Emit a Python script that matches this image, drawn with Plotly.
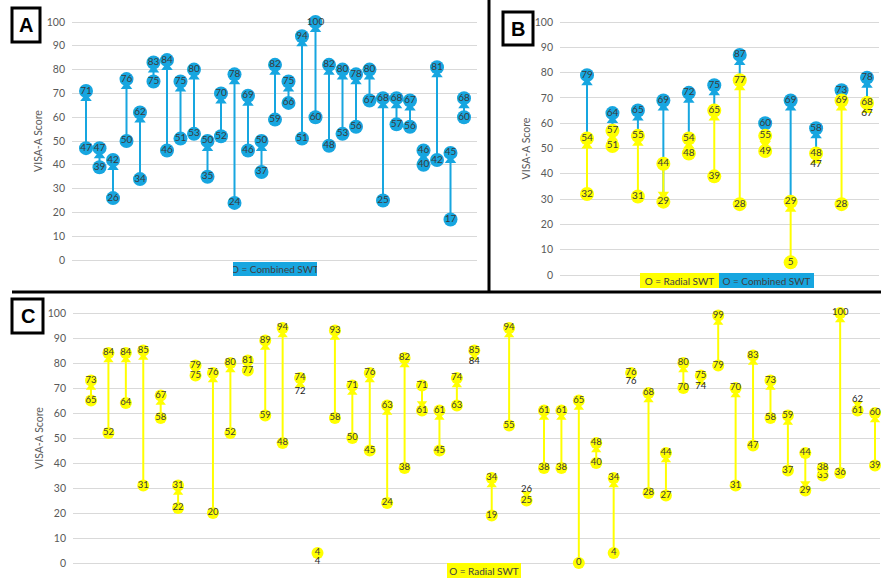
import plotly.graph_objects as go

# ---------------- data ----------------
# Panel A: Combined SWT (pre -> post)
A_pre = [47, 39, 26, 50, 34, 75, 46, 51, 53, 35, 52, 24, 46, 37, 59, 66, 51, 60, 48, 53,
         56, 67, 25, 57, 56, 40, 42, 17, 60]
A_post = [71, 47, 42, 76, 62, 83, 84, 75, 80, 50, 70, 78, 69, 50, 82, 75, 94, 100, 82, 80,
          78, 80, 68, 68, 67, 46, 81, 45, 68]

# Panel B: Radial SWT then Combined SWT
B_radial_pre = [32, 51, 31, 44, 48, 39, 28, 55, 5, 47, 28, 67]
B_radial_post = [54, 57, 55, 29, 54, 65, 77, 49, 29, 48, 69, 68]
B_combined_post = [79, 64, 65, 69, 72, 75, 87, 60, 69, 58, 73, 78]

# Panel C: Radial SWT (pre -> post)
C_pre = [65, 52, 64, 31, 58, 22, 75, 20, 52, 77, 59, 48, 72, 4, 58, 50, 45, 24, 38, 71,
         45, 63, 84, 19, 55, 26, 38, 38, 0, 40, 4, 76, 28, 27, 70, 74, 79, 31, 47, 58,
         37, 44, 35, 36, 62, 39]
C_post = [73, 84, 84, 85, 67, 31, 79, 76, 80, 81, 89, 94, 74, 4, 93, 71, 76, 63, 82, 61,
          61, 74, 85, 34, 94, 25, 61, 61, 65, 48, 34, 76, 68, 44, 80, 75, 99, 70, 83, 73,
          59, 29, 38, 100, 61, 60]

y_ticks = [0, 10, 20, 30, 40, 50, 60, 70, 80, 90, 100]
y_title = "VISA-A Score"
legend_A = "O = Combined SWT"
legend_radial = "O = Radial SWT"
legend_combined = "O = Combined SWT"

# ---------------- styling ----------------
W, H = 883, 582
BLUE = "#17A6E0"
YELLOW = "#FFFF00"
LABEL_FONT = "Lato, 'Liberation Sans', sans-serif"
TXT = "#3A3A3A"


def px(x):
    return x / W


def py(y):
    return 1 - y / H


fig = go.Figure()


def add_lines(xa, ya, pre, post, color):
    lx, ly = [], []
    for i, (a, b) in enumerate(zip(pre, post)):
        lx += [i, i, None]
        ly += [a, b, None]
    fig.add_trace(go.Scatter(x=lx, y=ly, mode="lines", line=dict(color=color, width=2),
                             xaxis=xa, yaxis=ya, hoverinfo="skip", showlegend=False))


def add_arrows(xa, ya, pre, post, color, ppu, size=10, off_px=7.5):
    off = off_px / ppu
    xs, ys, syms = [], [], []
    for i, (a, b) in enumerate(zip(pre, post)):
        if a == b:
            continue
        up = b > a
        xs.append(i)
        ys.append(b - off if up else b + off)
        syms.append("triangle-up" if up else "triangle-down")
    fig.add_trace(go.Scatter(x=xs, y=ys, mode="markers",
                             marker=dict(symbol=syms, size=size, color=color, line=dict(width=0)),
                             xaxis=xa, yaxis=ya, hoverinfo="skip", showlegend=False,
                             cliponaxis=False))


def add_circles(xa, ya, xs, vals, color, size, fsize=9.5):
    fig.add_trace(go.Scatter(x=xs, y=vals, mode="markers+text",
                             text=[str(v) for v in vals], textposition="middle center",
                             textfont=dict(family=LABEL_FONT, size=fsize, color=TXT),
                             marker=dict(symbol="circle", size=size, color=color, line=dict(width=0)),
                             xaxis=xa, yaxis=ya, hoverinfo="skip", showlegend=False,
                             cliponaxis=False))


def add_pre_circles(xa, ya, pre, post, color, size, fsize=9.5):
    xs = [i for i, (a, b) in enumerate(zip(pre, post)) if abs(a - b) > 2]
    vals = [pre[i] for i in xs]
    add_circles(xa, ya, xs, vals, color, size, fsize)


def add_close_labels(xa, ya, pre, post, fsize=9.5):
    # values nearly equal to the follow-up value: plain text label beside the circle
    for pos, cond in (("bottom center", lambda a, b: a <= b), ("top center", lambda a, b: a > b)):
        xs = [i for i, (a, b) in enumerate(zip(pre, post)) if abs(a - b) <= 2 and cond(a, b)]
        if not xs:
            continue
        vals = [pre[i] for i in xs]
        fig.add_trace(go.Scatter(x=xs, y=vals, mode="markers+text",
                                 text=[str(v) for v in vals], textposition=pos,
                                 textfont=dict(family=LABEL_FONT, size=fsize, color="#222222"),
                                 marker=dict(size=4, opacity=0),
                                 xaxis=xa, yaxis=ya, hoverinfo="skip", showlegend=False,
                                 cliponaxis=False))


# ---------------- Panel A ----------------
ppuA = (260 - 22) / 100
add_lines("x", "y", A_pre, A_post, BLUE)
add_arrows("x", "y", A_pre, A_post, BLUE, ppuA)
add_pre_circles("x", "y", A_pre, A_post, BLUE, 14, 10)
add_circles("x", "y", list(range(len(A_post))), A_post, BLUE, 14, 10)

# ---------------- Panel B ----------------
ppuB = (275 - 22) / 100
add_lines("x2", "y2", B_radial_post, B_combined_post, BLUE)
add_lines("x2", "y2", B_radial_pre, B_radial_post, YELLOW)
add_arrows("x2", "y2", B_radial_post, B_combined_post, BLUE, ppuB)
add_arrows("x2", "y2", B_radial_pre, B_radial_post, YELLOW, ppuB)
add_circles("x2", "y2", list(range(len(B_combined_post))), B_combined_post, BLUE, 14, 10)
add_pre_circles("x2", "y2", B_radial_pre, B_radial_post, YELLOW, 14, 10)
add_circles("x2", "y2", list(range(len(B_radial_post))), B_radial_post, YELLOW, 14, 10)
add_close_labels("x2", "y2", B_radial_pre, B_radial_post, 10)

# ---------------- Panel C ----------------
ppuC = (563 - 313) / 100
add_lines("x3", "y3", C_pre, C_post, YELLOW)
add_arrows("x3", "y3", C_pre, C_post, YELLOW, ppuC, size=9, off_px=7)
add_pre_circles("x3", "y3", C_pre, C_post, YELLOW, 12, 9.5)
add_circles("x3", "y3", list(range(len(C_post))), C_post, YELLOW, 12, 9.5)
add_close_labels("x3", "y3", C_pre, C_post, 9.5)

# ---------------- axes ----------------
def yaxis_cfg(top_px, bottom_px, anchor):
    ppu = (bottom_px - top_px) / 100
    t = top_px - 2 * ppu
    b = bottom_px + 2 * ppu
    return dict(domain=[py(b), py(t)], range=[-2, 102], tickvals=y_ticks,
                showgrid=True, gridcolor="#D9D9D9", gridwidth=1.3, zeroline=False,
                showline=False, ticks="", anchor=anchor, automargin=False,
                tickfont=dict(family=LABEL_FONT, size=10.5, color="#595959"),
                title=dict(text=y_title, font=dict(family=LABEL_FONT, size=10.5, color="#595959"),
                           standoff=2),
                ticklabelstandoff=6, fixedrange=True)


def xaxis_cfg(left_px, right_px, first_px, step_px, anchor):
    return dict(domain=[px(left_px), px(right_px)],
                range=[(left_px - first_px) / step_px, (right_px - first_px) / step_px],
                visible=False, anchor=anchor, automargin=False, fixedrange=True)


fig.update_layout(
    xaxis=xaxis_cfg(72, 477, 86, (464 - 86) / 28, "y"),
    yaxis=yaxis_cfg(22, 260, "x"),
    xaxis2=xaxis_cfg(560, 879, 587, (867 - 587) / 11, "y2"),
    yaxis2=yaxis_cfg(22, 275, "x2"),
    xaxis3=xaxis_cfg(73, 880, 91, (875 - 91) / 45, "y3"),
    yaxis3=yaxis_cfg(313, 563, "x3"),
)

# ---------------- frame lines, panel letters, legends ----------------
shapes = [
    dict(type="line", xref="paper", yref="paper", x0=px(489), x1=px(489), y0=py(292), y1=py(0),
         line=dict(color="black", width=3)),
    dict(type="line", xref="paper", yref="paper", x0=px(12), x1=px(881), y0=py(292), y1=py(292),
         line=dict(color="black", width=3)),
]
letters = [("A", 12, 8, 40, 42), ("B", 503, 12, 533, 45), ("C", 12, 299, 43, 333)]
annotations = []
for letter, x0, y0, x1, y1 in letters:
    shapes.append(dict(type="rect", xref="paper", yref="paper", x0=px(x0), x1=px(x1),
                       y0=py(y1), y1=py(y0), line=dict(color="black", width=3),
                       fillcolor="white"))
    annotations.append(dict(text="<b>%s</b>" % letter, xref="paper", yref="paper",
                            x=px((x0 + x1) / 2), y=py((y0 + y1) / 2), showarrow=False,
                            xanchor="center", yanchor="middle",
                            font=dict(family="Liberation Sans, Arial, sans-serif", size=20,
                                      color="black")))

legends = [
    (legend_A, BLUE, 233, 317, 262, 276),
    (legend_radial, YELLOW, 640, 719, 273, 288),
    (legend_combined, BLUE, 719, 814, 273, 288),
    (legend_radial, YELLOW, 447, 521, 563, 578),
]
for text, col, x0, x1, y0, y1 in legends:
    annotations.append(dict(text=text, xref="paper", yref="paper",
                            x=px((x0 + x1) / 2), y=py((y0 + y1) / 2), showarrow=False,
                            xanchor="center", yanchor="middle", align="center",
                            width=x1 - x0, height=y1 - y0, borderpad=0, borderwidth=0,
                            bgcolor=col,
                            font=dict(family=LABEL_FONT, size=10, color="#404040")))

fig.update_layout(
    width=W, height=H, autosize=False,
    margin=dict(l=0, r=0, t=0, b=0, autoexpand=False),
    paper_bgcolor="white", plot_bgcolor="white",
    showlegend=False, shapes=shapes, annotations=annotations,
)

fig.write_html("out.html", config=dict(displayModeBar=False),
               post_script="document.body.style.margin='0';document.body.style.overflow='hidden';")
